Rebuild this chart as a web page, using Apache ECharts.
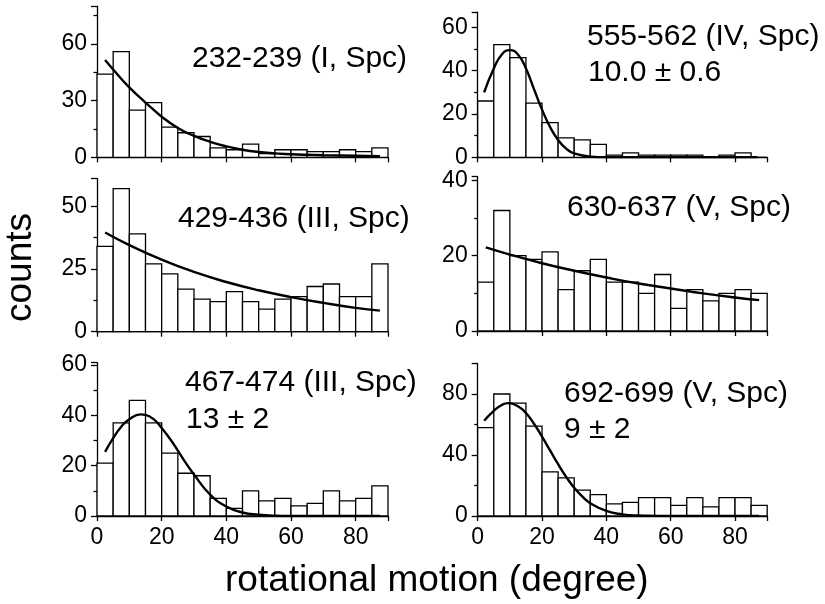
<!DOCTYPE html>
<html><head><meta charset="utf-8">
<script src="https://cdn.jsdelivr.net/npm/echarts@6/dist/echarts.min.js"></script>
<style>html,body{margin:0;padding:0;background:#fff}#c{width:825px;height:604px}</style>
</head><body><div id="c"></div>
<script>
// ---- data ----
var binEdges = [0,5,10,15,20,25,30,35,40,45,50,55,60,65,70,75,80,85,90];
var xTickLabels = [0,20,40,60,80];

var counts232 = [44,56,25,29,16,13,11,5,4,7,2,4,4,3,3,4,3,5];
var counts555 = [26,52,46,25,16,9,8,6,1,2,1,1,1,1,0,1,2,0];
var counts429 = [34,57,39,27,23,17,13,12,16,12,9,13,14,18,19,14,14,27];
var counts630 = [13,32,20,19,21,11,16,19,13,13,10,15,6,11,8,10,11,10];
var counts467 = [21,37,46,37,25,17,16,7,3,10,6,7,4,5,10,6,7,12];
var counts692 = [58,80,74,59,29,25,17,14,8,9,12,12,7,12,6,12,12,7];

var fitX232 = [2.5,5,10,15,20,25,30,35,40,45,50,55,60,70,80,87.5];
var fitY232 = [51.5,46.5,37,29,21.5,15.5,11.3,8.2,5.8,4,2.8,2.1,1.6,1.1,0.8,0.6];
var fitX555 = [2,5,7.5,10,12.5,15,17.5,20,22.5,25,27.5,30,35,40,50,60,70,80,87];
var fitY555 = [30,41,47.5,49.5,47.5,41,31.5,22,14,8,4,1.8,0.3,0,0,0,0,0,0];
var fitX429 = [2.5,10,20,30,40,50,60,70,80,87.5];
var fitY429 = [39.5,34.5,28.7,23.8,19.8,16.5,13.8,11.5,9.5,8.4];
var fitX630 = [2.5,10,20,30,40,50,60,70,80,87.5];
var fitY630 = [22.2,20.3,18.0,16.0,14.2,12.6,11.3,10.0,8.9,8.2];
var fitX467 = [2.5,5,7.5,10,13.5,15,17.5,20,22.5,25,27.5,30,35,40,45,50,55,60,70,80,87.5];
var fitY467 = [25.5,31,35.5,38.5,40.4,40.2,38.5,35,30.8,26,21,16.5,8.5,3.8,1.4,0.5,0.1,0,0,0,0];
var fitX692 = [2,5,7.5,9.5,12.5,15,17.5,20,22.5,25,27.5,30,32.5,35,40,45,50,55,60,70,80,87.5];
var fitY692 = [62.5,69,72.8,74,72,67.5,60.5,52,43,34,25.7,18.5,12.8,8.4,3.3,1.1,0.3,0.1,0,0,0,0];

var panelLabels = [
  ['232-239 (I, Spc)'],
  ['555-562 (IV, Spc)', '10.0 \u00b1 0.6'],
  ['429-436 (III, Spc)'],
  ['630-637 (V, Spc)'],
  ['467-474 (III, Spc)', '13 \u00b1 2'],
  ['692-699 (V, Spc)', '9 \u00b1 2']
];
var yInterval = [30, 20, 25, 20, 20, 40];
var yMax = [80, 67, 61, 41, 61, 100];
var xAxisTitle = 'rotational motion (degree)';
var yAxisTitle = 'counts';

// ---- layout ----
var FONT = "'Liberation Sans', Arial, Helvetica, sans-serif";
var grids = [
  {left: 97, top: 6.2, width: 291, height: 151.1},
  {left: 477.7, top: 12.2, width: 289.5, height: 145.1},
  {left: 97, top: 178.6, width: 291, height: 153.1},
  {left: 477.7, top: 176.6, width: 289.5, height: 154.4},
  {left: 97, top: 362.6, width: 291, height: 153.4},
  {left: 477.7, top: 363.5, width: 289.5, height: 152.5}
];
var labelPos = [
  [[192, 43.9]],
  [[587, 21.3], [588, 57.9]],
  [[178, 203.6]],
  [[567, 193]],
  [[185, 368], [186, 404.6]],
  [[564, 378.6], [564, 414.6]]
];
var countsList = [counts232, counts555, counts429, counts630, counts467, counts692];
var fitXs = [fitX232, fitX555, fitX429, fitX630, fitX467, fitX692];
var fitYs = [fitY232, fitY555, fitY429, fitY630, fitY467, fitY692];

var xAxes = [], yAxes = [], series = [], titles = [];
for (var i = 0; i < 6; i++) {
  var bottom = i >= 4;
  xAxes.push({
    type: 'value', gridIndex: i, min: 0, max: 90, interval: 20,
    axisLine: {show: true, lineStyle: {color: '#000', width: 1.3}},
    axisTick: {show: true, length: 5, lineStyle: {color: '#000', width: 1.3}},
    splitLine: {show: false},
    axisLabel: {show: bottom, color: '#000', fontSize: 23, fontFamily: FONT, margin: 10,
      formatter: function (v) { return xTickLabels.indexOf(v) >= 0 ? String(v) : ''; }}
  });
  (function (iv) {
    yAxes.push({
      type: 'value', gridIndex: i, min: 0, max: yMax[i], interval: iv,
      axisLine: {show: true, lineStyle: {color: '#000', width: 1.3}},
      axisTick: {show: true, length: 6, lineStyle: {color: '#000', width: 1.3}},
      minorTick: {show: true, splitNumber: 2, length: 3.5, lineStyle: {color: '#000', width: 1.3}},
      splitLine: {show: false},
      axisLabel: {color: '#000', fontSize: 23, fontFamily: FONT, margin: 10,
        formatter: function (v) { return v % iv === 0 ? String(v) : ''; }}
    });
  })(yInterval[i]);
  var barData = countsList[i].map(function (v, k) { return [binEdges[k], binEdges[k + 1], v]; });
  series.push({
    type: 'custom', xAxisIndex: i, yAxisIndex: i, data: barData, silent: true,
    renderItem: function (params, api) {
      var p0 = api.coord([api.value(0), api.value(2)]);
      var p1 = api.coord([api.value(1), 0]);
      return {type: 'rect', shape: {x: p0[0], y: p0[1], width: p1[0] - p0[0], height: p1[1] - p0[1]},
        style: {fill: '#fff', stroke: '#000', lineWidth: 1.3}};
    }
  });
  var fx = fitXs[i], fy = fitYs[i];
  series.push({
    type: 'line', xAxisIndex: i, yAxisIndex: i, showSymbol: false, silent: true,
    smooth: 0.5, z: 5,
    lineStyle: {color: '#000', width: 2.4},
    data: fx.map(function (x, k) { return [x, fy[k]]; })
  });
  panelLabels[i].forEach(function (t, k) {
    titles.push({text: t, left: labelPos[i][k][0], top: labelPos[i][k][1], padding: 0,
      textStyle: {fontSize: 30, fontWeight: 'normal', color: '#000', fontFamily: FONT}});
  });
}
titles.push({text: xAxisTitle, left: 225, top: 562, padding: 0,
  textStyle: {fontSize: 37, fontWeight: 'normal', color: '#000', fontFamily: FONT}});

var chart = echarts.init(document.getElementById('c'), null, {renderer: 'canvas'});
chart.setOption({
  backgroundColor: '#fff',
  animation: false,
  title: titles,
  grid: grids,
  xAxis: xAxes,
  yAxis: yAxes,
  series: series,
  graphic: [{
    type: 'text', x: 20.5, y: 267.5, rotation: Math.PI / 2,
    style: {text: yAxisTitle, font: '37px ' + FONT, fill: '#000', align: 'center', verticalAlign: 'middle',
      textAlign: 'center', textVerticalAlign: 'middle'}
  }]
});
</script></body></html>
